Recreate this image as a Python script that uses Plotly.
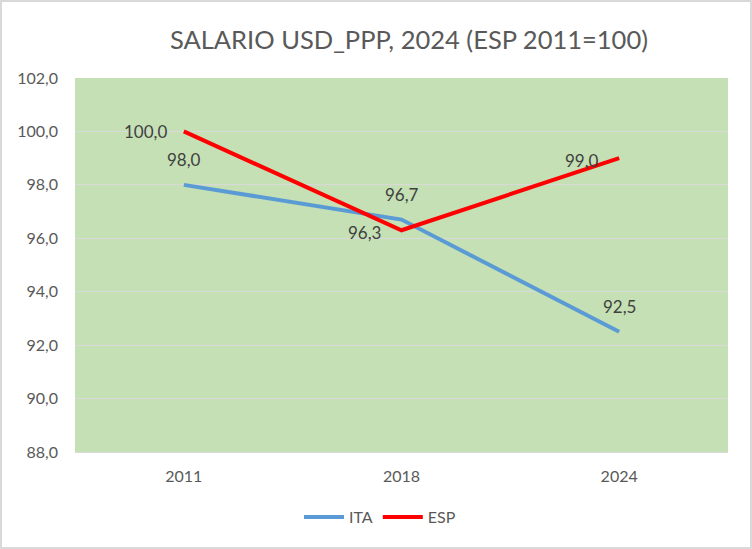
import plotly.graph_objects as go

years = ["2011", "2018", "2024"]
ita = [98.0, 96.7, 92.5]
esp = [100.0, 96.3, 99.0]
y_ticks = [88, 90, 92, 94, 96, 98, 100, 102]

def fmt(v):
    return f"{v:.1f}".replace(".", ",")

W, H = 752, 549
L, R, T, B = 75, 24, 78, 97
pw, ph = W - L - R, H - T - B

FONT = "Lato"
GREY = "#595959"
LBL = "#404040"

fig = go.Figure()
fig.add_trace(go.Scatter(
    x=years, y=ita, name="ITA", mode="lines",
    line=dict(color="#5B9BD5", width=4),
))
fig.add_trace(go.Scatter(
    x=years, y=esp, name="ESP", mode="lines",
    line=dict(color="#FF0000", width=4),
))

# data labels: ITA above points, ESP left of points (x = category index)
for i, v in enumerate(ita):
    fig.add_annotation(x=i, y=v, text=fmt(v), showarrow=False,
                       xanchor="center", yanchor="middle", yshift=25,
                       font=dict(family=FONT, size=17, color=LBL))
esp_shift = [(-15, 0), (-19, -2), (-18, -2)]
for i, (v, (dx, dy)) in enumerate(zip(esp, esp_shift)):
    fig.add_annotation(x=i, y=v, text=fmt(v), showarrow=False,
                       xanchor="right", yanchor="middle", xshift=dx, yshift=dy,
                       font=dict(family=FONT, size=17, color=LBL))

fig.update_layout(
    width=W, height=H,
    margin=dict(l=L, r=R, t=T, b=B),
    paper_bgcolor="white",
    plot_bgcolor="#C5E0B4",
    title=dict(text="SALARIO USD_PPP, 2024 (ESP 2011=100)",
               x=409 / W, xanchor="center", y=1 - 40 / H, yanchor="middle",
               font=dict(family=FONT, size=25.5, color=GREY)),
    font=dict(family=FONT, size=16, color=GREY),
    xaxis=dict(type="category", showgrid=False, zeroline=False,
               tickfont=dict(family=FONT, size=16, color=GREY), ticks="",
               ticklabelstandoff=10,
               showline=True, linecolor="#D9D9D9", linewidth=1,
               range=[-0.5, 2.5]),
    yaxis=dict(range=[88, 102], tickvals=y_ticks,
               ticktext=[fmt(v) for v in y_ticks],
               showgrid=True, gridcolor="#D9D9D9", gridwidth=1,
               zeroline=False, ticks="", ticklabelstandoff=16,
               tickfont=dict(family=FONT, size=16, color=GREY)),
    legend=dict(orientation="h", x=(380 - L) / pw, xanchor="center",
                y=(0 - (517 - (T + ph))) / ph, yanchor="middle",
                font=dict(family=FONT, size=16, color=GREY),
                itemwidth=40,
                bgcolor="rgba(0,0,0,0)"),
    showlegend=True,
)

fig.add_shape(type="rect", xref="paper", yref="paper",
              x0=-(L - 1) / pw, x1=1 + (R - 1) / pw,
              y0=-(B - 1) / ph, y1=1 + (T - 1) / ph,
              line=dict(color="#D9D9D9", width=2), layer="below")

fig.write_html("out.html")
